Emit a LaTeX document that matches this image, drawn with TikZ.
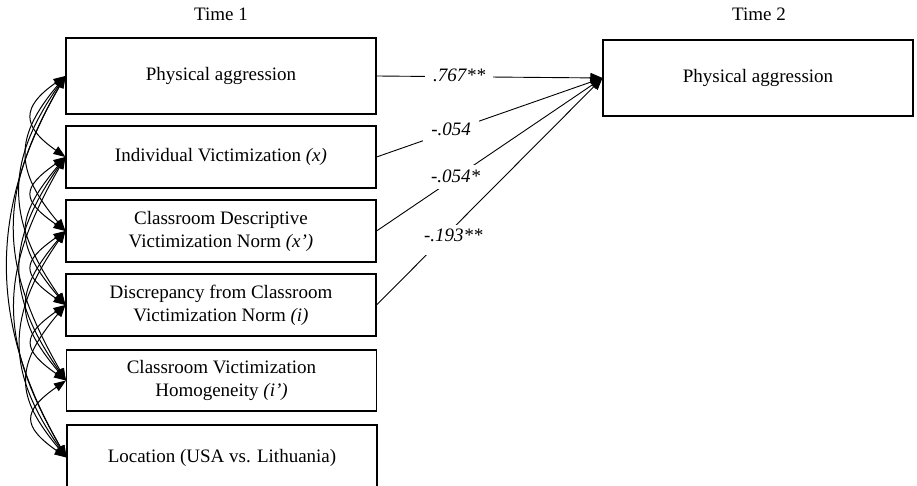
\documentclass[tikz,border=0pt]{standalone}
\usepackage{fontspec}
\setmainfont{Liberation Serif}
\usetikzlibrary{arrows.meta}
\begin{document}
\begin{tikzpicture}[x=1pt,y=1pt,
  box/.style={draw, line width=1.1pt, minimum width=310pt, align=center,
    inner sep=0pt, font=\fontsize{19}{23}\selectfont},
  pathline/.style={line width=0.9pt, -{Triangle[length=12pt,width=10pt]}},
  cov/.style={line width=1pt,
    {Triangle[length=12pt,width=9pt]}-{Triangle[length=12pt,width=9pt]}},
  coef/.style={fill=white, inner xsep=8pt, inner ysep=4pt,
    text height=13pt, text depth=3pt,
    font=\fontsize{19}{23}\selectfont\itshape},
  heading/.style={font=\fontsize{19}{23}\selectfont}]
\useasboundingbox (0,0) rectangle (917,-486);

% headings
\node[heading] (t1) at (221,-14) {Time 1};
\node[heading] (t2) at (759,-14) {Time 2};

% Time 1 predictors
\node[box, minimum height=76pt] (v1) at (221,-76) {Physical aggression};
\node[box, minimum height=62pt] (v2) at (221,-157) {Individual Victimization \textit{(x)}};
\node[box, minimum height=62pt] (v3) at (221,-231) {Classroom Descriptive\\Victimization Norm \textit{(x')}};
\node[box, minimum height=62pt] (v4) at (221,-305) {Discrepancy from Classroom\\Victimization Norm \textit{(i)}};
\node[box, minimum height=61pt] (v5) at (221.5,-380.5) {Classroom Victimization\\Homogeneity \textit{(i')}};
\node[box, minimum height=65pt] (v6) at (222,-457.5) {Location (USA vs. Lithuania)};

% Time 2 outcome
\node[box, minimum height=76pt] (w1) at (758,-78) {Physical aggression};

% regression paths with coefficients
\draw[pathline] (v1.east) -- node[coef, pos=0.366] {.767**} (w1.west);
\draw[pathline] (v2.east) -- node[coef, pos=0.33] {-.054} (w1.west);
\draw[pathline] (v3.east) -- node[coef, pos=0.35] {-.054*} (w1.west);
\draw[pathline] (v4.east) -- node[coef, pos=0.3, xshift=9pt, yshift=-3pt,
  text depth=9pt] {-.193**} (w1.west);

% covariances among the Time 1 variables
\foreach \i/\j/\t/\c in {
  1/2/35/54, 2/3/35/54, 3/4/35/54, 4/5/35/54, 5/6/35/54,
  1/3/50/80, 2/4/50/80, 3/5/50/80, 4/6/50/80,
  1/4/55/105, 2/5/55/105, 3/6/55/105,
  1/5/60/136, 2/6/60/136,
  1/6/60/155}
  \draw[cov] (v\i.west) .. controls +({180+\t}:\c) and +({180-\t}:\c) .. (v\j.west);
\end{tikzpicture}
\end{document}
